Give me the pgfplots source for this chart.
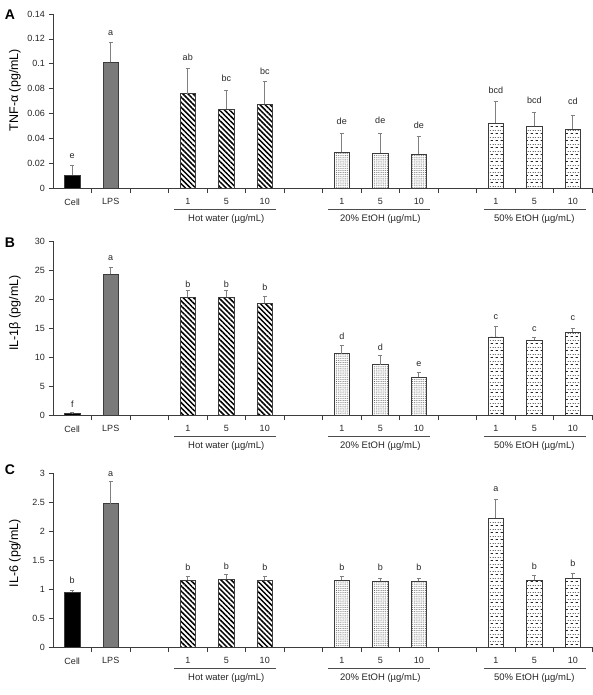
\documentclass[border=0pt]{standalone}
\usepackage{pgfplots}
\pgfplotsset{compat=1.18}
\usepackage{pgfplotstable}
\usepackage{fontspec}
\setmainfont{Liberation Sans}
\usetikzlibrary{patterns.meta}

\tikzdeclarepattern{
  name=dashrows, type=uncolored,
  bounding box={(0,0) and (5pt,7pt)},
  tile size={(5pt,7pt)},
  code={
    \draw[line width=0.7pt] (0.6pt,1.75pt) -- (3.4pt,1.75pt);
    \draw[line width=0.7pt] (3.1pt,5.25pt) -- (5pt,5.25pt);
    \draw[line width=0.7pt] (0pt,5.25pt) -- (0.9pt,5.25pt);
  }
}

\pgfplotstableread{
x y e ly l
0 0.0105 0.0078 0.0238 e
1 0.1013 0.0157 0.1223 a
3 0.0760 0.0200 0.1025 ab
4 0.0634 0.0150 0.0851 bc
5 0.0675 0.0180 0.0910 bc
7 0.0289 0.0153 0.0511 de
8 0.0278 0.0164 0.0514 de
9 0.0273 0.0142 0.0476 de
11 0.0522 0.0174 0.0760 bcd
12 0.0500 0.0110 0.0680 bcd
13 0.0474 0.0109 0.0666 cd
}\tA
\pgfplotstableread{
x y e ly l
0 0.25 0.21 1.26 f
1 24.30 1.15 26.55 a
3 20.34 1.15 21.95 b
4 20.29 1.15 22.00 b
5 19.30 1.10 21.40 b
7 10.57 1.43 13.05 d
8 8.68 1.55 11.10 d
9 6.50 0.90 8.33 e
11 13.45 1.75 16.40 c
12 12.87 0.45 14.40 c
13 14.30 0.60 16.20 c
}\tB
\pgfplotstableread{
x y e ly l
0 0.94 0.03 1.085 b
1 2.47 0.39 2.940 a
3 1.154 0.060 1.310 b
4 1.170 0.080 1.340 b
5 1.154 0.056 1.310 b
7 1.154 0.056 1.315 b
8 1.130 0.050 1.315 b
9 1.130 0.050 1.315 b
11 2.220 0.330 2.670 a
12 1.154 0.080 1.330 b
13 1.183 0.092 1.385 b
}\tC

\definecolor{lpsgray}{HTML}{7A7A7A}
\definecolor{axgray}{HTML}{3C3C3C}

\pgfplotsset{
  panel/.style={
    width=539pt, height=174pt, scale only axis,
    xmin=-0.5, xmax=13.5, ymin=0, clip=false,
    axis x line*=bottom, axis y line*=left,
    axis line style={axgray, line width=0.8pt},
    tick style={axgray, line width=0.7pt},
    tick align=outside, major tick length=4.5pt,
    xtick={0.5,1.5,...,13.5}, xticklabels={},
    extra x ticks={0,1,3,4,5,7,8,9,11,12,13},
    extra x tick labels={Cell,LPS,1,5,10,1,5,10,1,5,10},
    extra x tick style={major tick length=0pt, xticklabel style={yshift=-7pt}},
    ticklabel style={font=\fontsize{9}{10}\selectfont, text=black!85},
    /pgf/number format/assume math mode=true,
    scaled y ticks=false,
    yticklabel style={/pgf/number format/fixed, /pgf/number format/precision=2},
  },
  bars/.style={ybar, bar shift=0pt, bar width=15.5pt, draw=axgray, line width=0.6pt,
    error bars/y dir=plus, error bars/y explicit,
    error bars/error mark=-,
    error bars/error bar style={black!50, line width=0.9pt},
    error bars/error mark options={rotate=90, black!50, line width=0.9pt, mark size=2.2pt}},
  letters/.style={draw=none, mark=none, nodes near coords, point meta=explicit symbolic,
    every node near coord/.append style={anchor=south, inner sep=0pt, font=\fontsize{9}{10}\selectfont, text=black!85}},
}

\newcommand\drawbars[1]{%
  \addplot[bars, fill=black] table[x=x, y=y, y error=e, restrict x to domain=0:0] {#1};
  \addplot[bars, fill=lpsgray] table[x=x, y=y, y error=e, restrict x to domain=1:1] {#1};
  \addplot[bars, pattern={Lines[angle=-45, distance=3.6pt, line width=1.5pt]}, pattern color=black] table[x=x, y=y, y error=e, restrict x to domain=2.5:5.5] {#1};
  \addplot[bars, pattern={Dots[distance=1.9pt, radius=0.45pt]}, pattern color=black!75] table[x=x, y=y, y error=e, restrict x to domain=6.5:9.5] {#1};
  \addplot[bars, pattern=dashrows, pattern color=black!85] table[x=x, y=y, y error=e, restrict x to domain=10.5:13.5] {#1};
  \addplot[letters] table[x=x, y=ly, meta=l] {#1};
  \draw[black!70, line width=0.7pt] ([yshift=-21pt]axis cs:2.65,0) -- ([yshift=-21pt]axis cs:5.3,0);
  \draw[black!70, line width=0.7pt] ([yshift=-21pt]axis cs:6.65,0) -- ([yshift=-21pt]axis cs:9.3,0);
  \draw[black!70, line width=0.7pt] ([yshift=-21pt]axis cs:10.7,0) -- ([yshift=-21pt]axis cs:13.35,0);
  \node[font=\fontsize{9.5}{10}\selectfont, text=black!85] at ([yshift=-31pt]axis cs:4,0) {Hot water (µg/mL)};
  \node[font=\fontsize{9.5}{10}\selectfont, text=black!85] at ([yshift=-31pt]axis cs:8,0) {20\% EtOH (µg/mL)};
  \node[font=\fontsize{9.5}{10}\selectfont, text=black!85] at ([yshift=-31pt]axis cs:12,0) {50\% EtOH (µg/mL)};
}

\begin{document}
\begin{tikzpicture}
\useasboundingbox (0,0) rectangle (593pt,-695pt);

\begin{axis}[panel, at={(53pt,-188pt)}, anchor=south west,
  ymax=0.14, ytick={0,0.02,...,0.14}]
  \drawbars{\tA}
  \node[rotate=90, font=\fontsize{12.5}{13}\selectfont] at ([xshift=-38pt]rel axis cs:0,0.563) {TNF-α (pg/mL)};
\end{axis}

\begin{axis}[panel, at={(53pt,-415pt)}, anchor=south west,
  ymax=30, ytick={0,5,...,30}]
  \drawbars{\tB}
  \node[rotate=90, font=\fontsize{12.5}{13}\selectfont] at ([xshift=-38pt]rel axis cs:0,0.586) {IL-1β (pg/mL)};
\end{axis}

\begin{axis}[panel, at={(53pt,-647pt)}, anchor=south west,
  ymax=3, ytick={0,0.5,...,3}]
  \drawbars{\tC}
  \node[rotate=90, font=\fontsize{12.5}{13}\selectfont] at ([xshift=-38pt]rel axis cs:0,0.54) {IL-6 (pg/mL)};
\end{axis}

\node[font=\bfseries\fontsize{14}{14}\selectfont] at (10pt,-15pt) {A};
\node[font=\bfseries\fontsize{14}{14}\selectfont] at (10pt,-243pt) {B};
\node[font=\bfseries\fontsize{14}{14}\selectfont] at (10pt,-470pt) {C};
\end{tikzpicture}
\end{document}
